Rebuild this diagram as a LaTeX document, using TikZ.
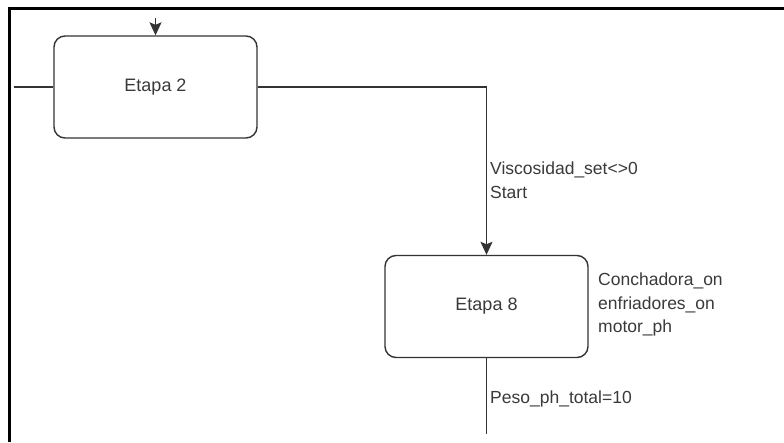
\documentclass[tikz,border=0pt]{standalone}
\usepackage{fontspec}
\setmainfont{Liberation Sans}
\usetikzlibrary{arrows.meta}
\definecolor{linegray}{HTML}{333333}
\definecolor{textgray}{HTML}{3A3A3A}
\begin{document}
\begin{tikzpicture}[x=1pt,y=-1pt,
  stepbox/.style={draw=linegray, line width=1.4pt, rounded corners=11pt,
    minimum width=203pt, minimum height=102pt, inner sep=0pt,
    font=\fontsize{18}{22}\selectfont, text=textgray},
  wire/.style={draw=linegray, line width=1.3pt},
  flow/.style={wire, -{Stealth[length=13pt,width=12pt,inset=2.5pt]}},
  lbl/.style={font=\fontsize{17.5}{23.5}\selectfont, text=textgray, inner sep=0pt,
    align=left, anchor=north west}]
  \useasboundingbox (0,0) rectangle (784,442);
  \fill[white] (0,0) rectangle (784,442);
  % window frame (top and left edges)
  \draw[black, line width=2.6pt] (9.5,442) -- (9.5,8.2) -- (784,8.2);

  % step boxes
  \node[stepbox] (e2) at (155.5,87) {Etapa 2};
  \node[stepbox] (e8) at (486.5,306.5) {Etapa 8};

  % connectors
  \coordinate (inTop) at (155.5,18);
  \coordinate (inLeft) at (14,87);
  \coordinate (corner) at (486.5,87);
  \coordinate (outBot) at (486.5,434);
  \draw[flow] (inTop) -- (e2.north);
  \draw[wire] (inLeft) -- (e2.west);
  \draw[flow] (e2.east) -- (corner) -- (e8.north);
  \draw[wire] (e8.south) -- (outBot);

  % transition conditions and actions
  \node[lbl] (t1) at (490,162) {Viscosidad\_set<>0\\Start};
  \node[lbl] (a8) at (598,273) {Conchadora\_on\\enfriadores\_on\\motor\_ph};
  \node[lbl] (t2) at (490,391) {Peso\_ph\_total=10};
\end{tikzpicture}
\end{document}
